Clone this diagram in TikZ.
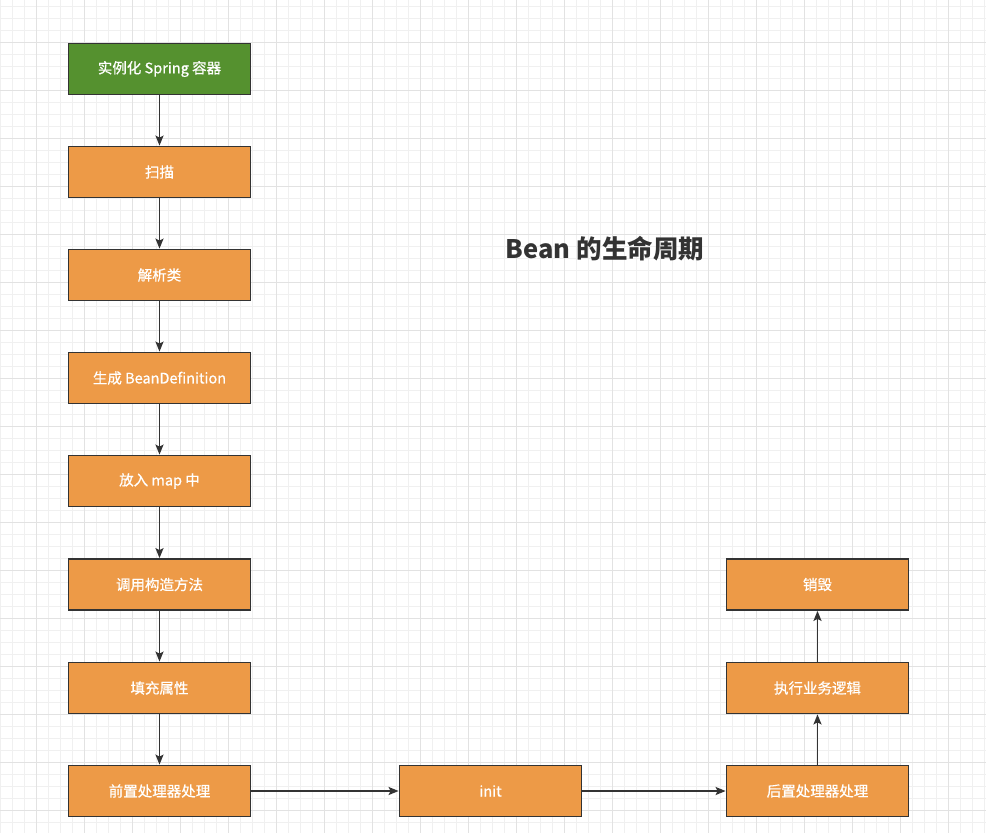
\documentclass[tikz,border=0pt]{standalone}
\usepackage{fontspec}
\newfontfamily\cjk{Noto Sans CJK SC}
\newfontfamily\cjkm[FakeBold=0.7]{Noto Sans CJK SC}
\usetikzlibrary{arrows.meta}
\definecolor{gridminor}{HTML}{F0F0F0}
\definecolor{gridmajor}{HTML}{E2E2E2}
\definecolor{boxorange}{HTML}{ED9A47}
\definecolor{boxgreen}{HTML}{55912F}
\definecolor{linegray}{HTML}{333333}
\tikzset{
  x=1pt, y=-1pt,
  stagebox/.style={draw=linegray, line width=1.8pt, fill=boxorange, minimum width=182pt, minimum height=51pt, inner sep=0pt, text=white, font=\cjkm\fontsize{14.5}{17}\selectfont, anchor=center},
  startbox/.style={stagebox, fill=boxgreen},
  flow/.style={draw=linegray, line width=1.7pt, -{Stealth[length=10pt, width=8pt, inset=2pt]}},
}
\begin{document}
\begin{tikzpicture}
\useasboundingbox (0,0) rectangle (986,833);
\fill[white] (0,0) rectangle (986,833);
% grid
\foreach \gx in {0,12,...,984} \draw[gridminor, line width=0.8pt] (\gx,0) -- (\gx,833);
\foreach \gy in {6,18,...,830} \draw[gridminor, line width=0.8pt] (0,\gy) -- (986,\gy);
\foreach \gx in {36,84,...,984} \draw[gridmajor, line width=0.8pt] (\gx,0) -- (\gx,833);
\foreach \gy in {42,90,...,830} \draw[gridmajor, line width=0.8pt] (0,\gy) -- (986,\gy);
% nodes
\node[startbox] (n1) at (159.5,69) {实例化 Spring 容器};
\node[stagebox] (n2) at (159.5,172) {扫描};
\node[stagebox] (n3) at (159.5,275) {解析类};
\node[stagebox] (n4) at (159.5,378) {生成 BeanDefinition};
\node[stagebox] (n5) at (159.5,481) {放入 map 中};
\node[stagebox] (n6) at (159.5,584.5) {调用构造方法};
\node[stagebox] (n7) at (159.5,688) {填充属性};
\node[stagebox] (n8) at (159.5,791) {前置处理器处理};
\node[stagebox] (n9) at (490.5,791) {init};
\node[stagebox] (n10) at (817.5,791) {后置处理器处理};
\node[stagebox] (n11) at (817.5,688) {执行业务逻辑};
\node[stagebox] (n12) at (817.5,584.5) {销毁};
\node[text=linegray, font=\cjk\bfseries\fontsize{25.5}{30}\selectfont] (title) at (605,249) {Bean 的生命周期};
% connectors
\draw[flow] (n1) -- (n2);
\draw[flow] (n2) -- (n3);
\draw[flow] (n3) -- (n4);
\draw[flow] (n4) -- (n5);
\draw[flow] (n5) -- (n6);
\draw[flow] (n6) -- (n7);
\draw[flow] (n7) -- (n8);
\draw[flow] (n8) -- (n9);
\draw[flow] (n9) -- (n10);
\draw[flow] (n10) -- (n11);
\draw[flow] (n11) -- (n12);
\end{tikzpicture}
\end{document}
